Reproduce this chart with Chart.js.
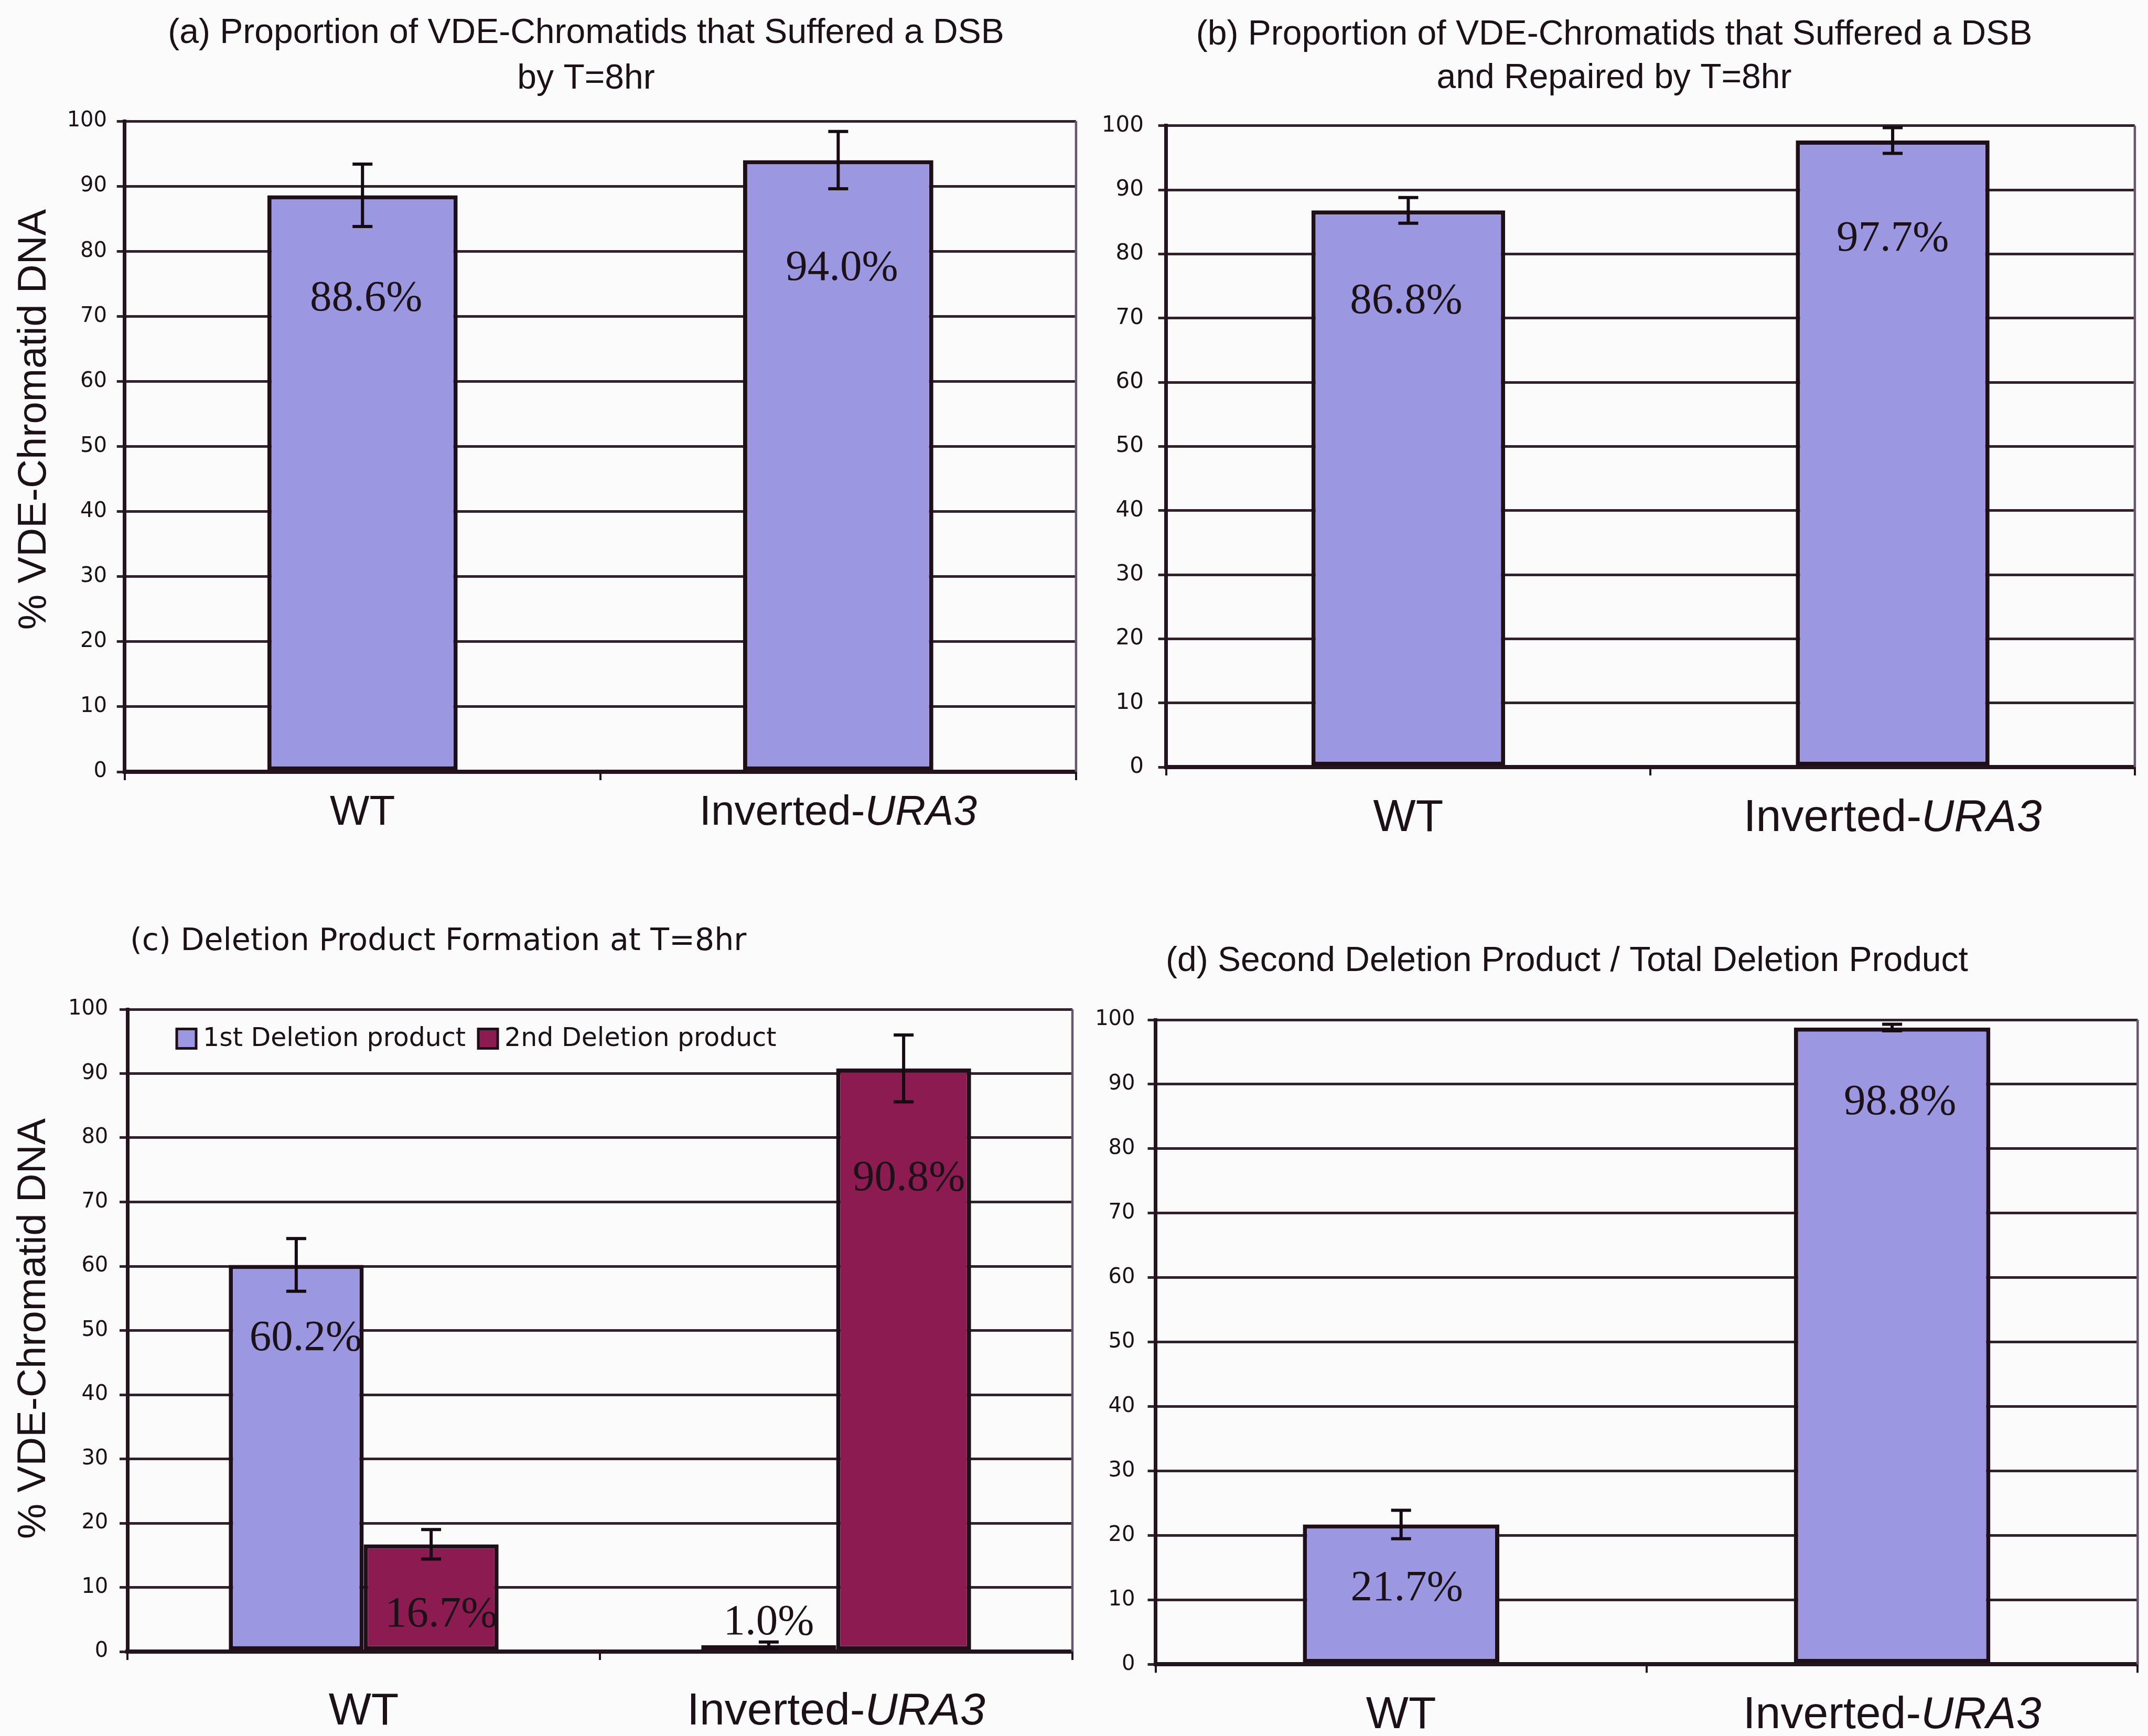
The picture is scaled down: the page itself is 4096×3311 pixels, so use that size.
<!DOCTYPE html>
<html>
<head>
<meta charset="utf-8">
<title>VDE-induced DSB repair at T=8hr</title>
<script src="https://cdn.jsdelivr.net/npm/chart.js@4.4.1/dist/chart.umd.min.js"></script>
<style>
  html, body { margin: 0; padding: 0; width: 4096px; height: 3311px; overflow: hidden; background: #fbfbfc; }
  canvas { position: absolute; }
</style>
</head>
<body>
<canvas id="chartBroken"></canvas>
<canvas id="chartRepaired"></canvas>
<canvas id="chartDeletion"></canvas>
<canvas id="chartRatio"></canvas>
<script>
// ---- data -------------------------------------------------------------
const categories = ['WT', 'Inverted-URA3'];
const italicGene = 'URA3';            // gene name set in italics in the axis labels
const yMin = 0, yMax = 100, yStep = 10;

// (a) chromatids that suffered a DSB by T=8hr (%), with error
const brokenByT8 = [88.6, 94.0];
const brokenByT8Err = [4.8, 4.4];

// (b) chromatids that suffered a DSB and were repaired by T=8hr (%)
const repairedByT8 = [86.8, 97.7];
const repairedByT8Err = [2.0, 2.0];

// (c) deletion product formation at T=8hr (%)
const seriesNames = ['1st Deletion product', '2nd Deletion product'];
const firstDeletion = [60.2, 1.0];
const firstDeletionErr = [4.1, 0.5];
const secondDeletion = [16.7, 90.8];
const secondDeletionErr = [2.3, 5.2];

// (d) second deletion product / total deletion product (%)
const secondOfTotal = [21.7, 98.8];
const secondOfTotalErr = [2.2, 0.5];

// ---- styling ----------------------------------------------------------
const INK = '#1b1117';
const GRID = '#30212c';
const AXIS = '#24141e';
const FRAME = '#66566f';
const BAR_EDGE = '#1f0f18';
const BLUE = '#9b97e1';
const MAROON = '#8c1b51';
const SANS = "'Liberation Sans', Arial, sans-serif";
const VERDANA = "'DejaVu Sans', Verdana, sans-serif";
const SERIF = "'Liberation Serif', 'Times New Roman', serif";

// Draws the right edge of the plot frame, error bars, value labels,
// category labels (with the italic gene name), the y title and the legend.
function decorPlugin(spec, geo) {
  return {
    id: 'panelDecor',
    beforeDatasetsDraw(chart) {
      const { ctx, chartArea: a } = chart;
      ctx.save();
      ctx.strokeStyle = FRAME;
      ctx.lineWidth = 4.5;
      ctx.beginPath();
      ctx.moveTo(a.right, a.top);
      ctx.lineTo(a.right, a.bottom);
      ctx.stroke();
      ctx.restore();
    },
    afterDatasetsDraw(chart) {
      const { ctx } = chart;
      const ys = chart.scales.y;
      ctx.save();
      chart.data.datasets.forEach((ds, di) => {
        const meta = chart.getDatasetMeta(di);
        meta.data.forEach((bar, i) => {
          const v = ds.data[i], e = ds.errors[i];
          const yHi = ys.getPixelForValue(v + e);
          const yLo = ys.getPixelForValue(v - e);
          ctx.strokeStyle = '#160b12';
          ctx.lineWidth = 6;
          ctx.beginPath();
          ctx.moveTo(bar.x, yHi); ctx.lineTo(bar.x, yLo);
          ctx.moveTo(bar.x - 19, yHi); ctx.lineTo(bar.x + 19, yHi);
          ctx.moveTo(bar.x - 19, yLo); ctx.lineTo(bar.x + 19, yLo);
          ctx.stroke();
        });
      });
      // value labels
      ctx.fillStyle = INK;
      ctx.font = `${spec.valueSize}px ${SERIF}`;
      ctx.textAlign = 'center';
      ctx.textBaseline = 'alphabetic';
      chart.data.datasets.forEach((ds, di) => {
        const meta = chart.getDatasetMeta(di);
        meta.data.forEach((bar, i) => {
          const v = ds.data[i];
          const top = ys.getPixelForValue(v);
          const cy = top + spec.valueOffset[di][i];
          ctx.fillText(v.toFixed(1) + '%', bar.x + spec.valueDx[di][i], cy + 0.33 * spec.valueSize);
        });
      });
      ctx.restore();
    },
    afterDraw(chart) {
      const { ctx, chartArea: a } = chart;
      const xs = chart.scales.x;
      ctx.save();
      ctx.fillStyle = INK;
      ctx.textBaseline = 'alphabetic';
      ctx.textAlign = 'left';
      // category labels
      const cs = spec.catSize;
      const baseY = a.bottom + spec.catDy + 0.358 * cs;
      chart.data.labels.forEach((label, i) => {
        const x = xs.getPixelForValue(i);
        const parts = [];
        const k = label.indexOf(italicGene);
        if (k >= 0) {
          if (k > 0) parts.push([label.slice(0, k), false]);
          parts.push([italicGene, true]);
          if (k + italicGene.length < label.length) parts.push([label.slice(k + italicGene.length), false]);
        } else {
          parts.push([label, false]);
        }
        let total = 0;
        const widths = parts.map(([t, it]) => {
          ctx.font = `${it ? 'italic ' : ''}${cs}px ${SANS}`;
          const w = ctx.measureText(t).width;
          total += w;
          return w;
        });
        let cx = x - total / 2;
        parts.forEach(([t, it], j) => {
          ctx.font = `${it ? 'italic ' : ''}${cs}px ${SANS}`;
          ctx.fillText(t, cx, baseY);
          cx += widths[j];
        });
      });
      // vertical axis title
      if (spec.yTitle) {
        ctx.save();
        ctx.translate(spec.yTitle.x - geo.left, spec.yTitle.y - spec.top);
        ctx.rotate(-Math.PI / 2);
        ctx.font = `${spec.yTitle.size}px ${SANS}`;
        ctx.textAlign = 'center';
        ctx.textBaseline = 'middle';
        ctx.fillText(spec.yTitle.text, 0, 0);
        ctx.restore();
      }
      // legend
      if (spec.legend) {
        const L = spec.legend;
        let x = L.x - geo.left;
        const cy = L.y - spec.top;
        ctx.font = `${L.size}px ${VERDANA}`;
        ctx.textBaseline = 'middle';
        ctx.textAlign = 'left';
        chart.data.datasets.forEach(ds => {
          ctx.fillStyle = ds.backgroundColor;
          ctx.fillRect(x, cy - L.box / 2, L.box, L.box);
          ctx.strokeStyle = BAR_EDGE;
          ctx.lineWidth = 5;
          ctx.strokeRect(x, cy - L.box / 2, L.box, L.box);
          x += L.box + L.gap;
          ctx.fillStyle = INK;
          ctx.fillText(ds.label, x, cy + 1);
          x += ctx.measureText(ds.label).width + L.itemGap;
        });
      }
      ctx.restore();
    }
  };
}

function makePanel(id, spec, datasets) {
  const [pl, pt, pr, pb] = spec.plot;
  let titleCenter = spec.titleX;
  if (spec.titleLeft !== undefined) {
    const m = document.createElement('canvas').getContext('2d');
    m.font = `${spec.titleSize}px ${spec.titleFont}`;
    const w = Math.max(...spec.title.map(t => m.measureText(t).width));
    titleCenter = spec.titleLeft + w / 2;
  }
  // the full-width title band is centred on the title; the y-axis box starts
  // where the band starts and a blank right-hand axis fills the band's right end
  const bandL = Math.min(pl - 165, 2 * titleCenter - pr);
  const bandR = 2 * titleCenter - bandL;
  const spacer = bandR - pr;
  const left = Math.floor(Math.min(bandL, spec.minLeft));
  const width = Math.ceil(bandR - left + 14);
  const height = spec.bottom - spec.top;
  const canvas = document.getElementById(id);
  canvas.width = width;
  canvas.height = height;
  canvas.style.left = left + 'px';
  canvas.style.top = spec.top + 'px';
  const padL = bandL - left;
  const padR = left + width - bandR;
  const lh = spec.titleLine;
  const tPadTop = spec.titleY - spec.top - lh / 2;
  const tPadBottom = pt - spec.top - tPadTop - spec.title.length * lh;
  const geo = { left };

  return new Chart(canvas, {
    type: 'bar',
    data: { labels: categories, datasets },
    options: {
      responsive: false,
      animation: false,
      devicePixelRatio: 1,
      layout: { padding: { left: padL, right: padR, top: 0, bottom: 0 } },
      plugins: {
        legend: { display: false },
        tooltip: { enabled: false },
        title: {
          display: true,
          text: spec.title,
          color: INK,
          align: 'center',
          font: { family: spec.titleFont, size: spec.titleSize, weight: 'normal', lineHeight: lh / spec.titleSize },
          padding: { top: tPadTop, bottom: tPadBottom }
        }
      },
      scales: {
        x: {
          type: 'category',
          offset: true,
          z: 1,
          ticks: { display: false },
          grid: { offset: true, drawOnChartArea: false, drawTicks: true, tickLength: 16, color: AXIS, lineWidth: 4 },
          border: { color: AXIS, width: 8 },
          afterFit(s) { s.height = spec.bottom - pb; }
        },
        y: {
          min: yMin,
          max: yMax,
          ticks: { stepSize: yStep, color: INK, padding: spec.tickPad, font: { family: VERDANA, size: spec.tickSize } },
          grid: { color: GRID, lineWidth: 5, tickLength: 15, drawTicks: true },
          border: { color: AXIS, width: 7 },
          afterFit(s) { s.width = pl - bandL; }
        },
        pad: {
          type: 'linear',
          position: 'right',
          display: true,
          ticks: { display: false },
          grid: { display: false },
          border: { display: false },
          afterFit(s) { s.width = spacer; }
        }
      }
    },
    plugins: [decorPlugin(spec, geo)]
  });
}

function barSet(label, data, errors, color, catPct) {
  return {
    label, data, errors,
    backgroundColor: color,
    borderColor: BAR_EDGE,
    borderWidth: 8,
    borderSkipped: false,
    categoryPercentage: catPct,
    barPercentage: 1.0
  };
}

// (a)
makePanel('chartBroken', {
  plot: [237.7, 231, 2051.9, 1472], top: 0, bottom: 1650, minLeft: 0,
  title: ['(a) Proportion of VDE-Chromatids that Suffered a DSB', 'by T=8hr'],
  titleFont: SANS, titleSize: 66, titleLine: 86.5, titleX: 1117.5, titleY: 64,
  tickSize: 40, tickPad: 18.7,
  valueSize: 83, valueOffset: [[192, 201]], valueDx: [[7, 7]],
  catSize: 80, catDy: 72,
  yTitle: { text: '% VDE-Chromatid DNA', x: 66, y: 800, size: 76 }
}, [barSet('DSB by T=8hr', brokenByT8, brokenByT8Err, BLUE, 0.4)]);

// (b)
makePanel('chartRepaired', {
  plot: [2223.6, 239.8, 4070.9, 1463], top: 0, bottom: 1650, minLeft: 2080,
  title: ['(b) Proportion of VDE-Chromatids that Suffered a DSB', 'and Repaired by T=8hr'],
  titleFont: SANS, titleSize: 66, titleLine: 83.4, titleX: 3078, titleY: 66.6,
  tickSize: 42, tickPad: 27.6,
  valueSize: 83, valueOffset: [[168, 183]], valueDx: [[-4, 0]],
  catSize: 86, catDy: 91
}, [barSet('DSB and repaired by T=8hr', repairedByT8, repairedByT8Err, BLUE, 0.4)]);

// (c)
makePanel('chartDeletion', {
  plot: [243, 1925, 2045, 3150], top: 1680, bottom: 3311, minLeft: 0,
  title: ['(c) Deletion Product Formation at T=8hr'],
  titleFont: VERDANA, titleSize: 58.5, titleLine: 70.2, titleLeft: 248, titleY: 1797,
  tickSize: 40, tickPad: 21.7,
  valueSize: 83, valueOffset: [[135, -48], [129, 205]], valueDx: [[18, 0], [19, 10]],
  catSize: 86, catDy: 108,
  yTitle: { text: '% VDE-Chromatid DNA', x: 65, y: 2534, size: 76 },
  legend: { x: 337, y: 1981, box: 37, gap: 13, itemGap: 24, size: 49 }
}, [
  barSet(seriesNames[0], firstDeletion, firstDeletionErr, BLUE, 0.571),
  barSet(seriesNames[1], secondDeletion, secondDeletionErr, MAROON, 0.571)
]);

// (d)
makePanel('chartRatio', {
  plot: [2203.5, 1945, 4076.3, 3174.4], top: 1680, bottom: 3311, minLeft: 2030,
  title: ['(d) Second Deletion Product / Total Deletion Product'],
  titleFont: SANS, titleSize: 66, titleLine: 79.2, titleX: 2988, titleY: 1834,
  tickSize: 40, tickPad: 24,
  valueSize: 83, valueOffset: [[117, 138]], valueDx: [[11, 15]],
  catSize: 86, catDy: 91
}, [barSet('Second / total deletion product', secondOfTotal, secondOfTotalErr, BLUE, 0.4)]);
</script>
</body>
</html>
